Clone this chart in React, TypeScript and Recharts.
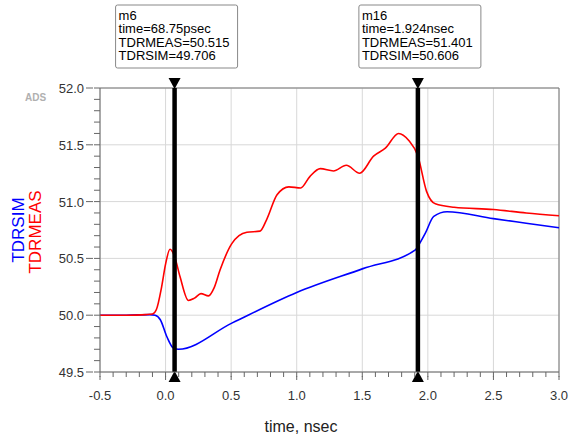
import React from "react";
import {
  LineChart,
  Line,
  XAxis,
  YAxis,
  CartesianGrid,
  ReferenceLine,
} from "recharts";

// TDR measured vs simulated, time in nsec
const measTime = [
  -0.5, -0.3, -0.15, -0.1, -0.07, -0.03, 0.0, 0.034, 0.069, 0.11, 0.174, 0.22,
  0.27, 0.327, 0.37, 0.416, 0.505, 0.56, 0.62, 0.72, 0.77, 0.85, 0.94, 1.03,
  1.1, 1.18, 1.28, 1.378, 1.48, 1.586, 1.676, 1.777, 1.853, 1.924, 1.99, 2.057,
  2.2, 2.5, 2.75, 3.0,
];
const measValues = [
  50.0, 50.0, 50.005, 50.01, 50.05, 50.25, 50.45, 50.58, 50.515, 50.34, 50.13,
  50.15, 50.19, 50.17, 50.24, 50.4, 50.63, 50.7, 50.73, 50.74, 50.84, 51.06,
  51.13, 51.12, 51.22, 51.29, 51.27, 51.32, 51.25, 51.4, 51.47, 51.6, 51.54,
  51.401, 51.09, 50.98, 50.95, 50.93, 50.9, 50.876,
];

const simTime = [
  -0.5, -0.3, -0.12, -0.08, -0.04, 0.01, 0.06, 0.098, 0.505, 1.0, 1.505, 1.905,
  1.924, 1.98, 2.045, 2.146, 2.5, 2.75, 3.0,
];
const simValues = [
  50.0, 50.0, 50.005, 50.0, 49.96, 49.81, 49.71, 49.7, 49.93, 50.2, 50.41,
  50.575, 50.606, 50.72, 50.87, 50.91, 50.85, 50.81, 50.77,
];

const xMajorTicks = [-0.5, 0, 0.5, 1, 1.5, 2, 2.5, 3];
const yMajorTicks = [49.5, 50, 50.5, 51, 51.5, 52];
const xMinorTicks = Array.from({ length: 36 }, (_, i) => -0.5 + i * 0.1);
const yMinorTicks = Array.from({ length: 26 }, (_, i) => 49.5 + i * 0.1);

const markerNames = ["m6", "m16"];
const markerTimes = [0.06875, 1.924];
const markerTimeLabels = ["68.75psec", "1.924nsec"];
const markerMeas = ["50.515", "51.401"];
const markerSim = ["49.706", "50.606"];

const measData = measTime.map((t, i) => ({ t, v: measValues[i] }));
const simData = simTime.map((t, i) => ({ t, v: simValues[i] }));

const FONT = "'Liberation Sans', Arial, sans-serif";

const isMajor = (v: number) => Math.abs(v * 2 - Math.round(v * 2)) < 1e-6;

// tick line (5px) is drawn by recharts, majors get a small extension here
const XTick = (props: any) => {
  const { x, y, payload } = props;
  const v = payload.value;
  if (!isMajor(v)) return <g />;
  return (
    <g>
      <line x1={x} x2={x} y1={y - 1} y2={y + 3} stroke="#666" />
      <text
        x={x}
        y={y + 23}
        textAnchor="middle"
        fontSize={13}
        fontFamily={FONT}
        fill="#333"
      >
        {v.toFixed(1)}
      </text>
    </g>
  );
};

const YTick = (props: any) => {
  const { x, y, payload } = props;
  const v = payload.value;
  if (!isMajor(v)) return <g />;
  return (
    <g>
      <line x1={x - 6} x2={x + 1} y1={y} y2={y} stroke="#666" />
      <text
        x={x - 8}
        y={y + 5}
        textAnchor="end"
        fontSize={13}
        fontFamily={FONT}
        fill="#333"
      >
        {v.toFixed(1)}
      </text>
    </g>
  );
};

const MarkerLabel = (props: any) => {
  const { viewBox, idx } = props;
  const { x, y, height } = viewBox;
  const bx = x - 59;
  const lines = [
    markerNames[idx],
    `time=${markerTimeLabels[idx]}`,
    `TDRMEAS=${markerMeas[idx]}`,
    `TDRSIM=${markerSim[idx]}`,
  ];
  return (
    <g>
      <rect
        x={bx}
        y={5}
        width={122}
        height={63}
        rx={2}
        fill="#fff"
        stroke="#888"
      />
      {lines.map((s, i) => (
        <text
          key={i}
          x={bx + 3}
          y={19.5 + i * 13.5}
          fontSize={13}
          fontFamily={FONT}
          fill="#000"
        >
          {s}
        </text>
      ))}
      <path
        d={`M${x - 6},${y - 10} L${x + 6},${y - 10} L${x},${y + 1} Z`}
        fill="#000"
      />
      <path
        d={`M${x - 6},${y + height + 10} L${x + 6},${y + height + 10} L${x},${y + height - 1} Z`}
        fill="#000"
      />
    </g>
  );
};

export default function App() {
  return (
    <div
      style={{
        position: "absolute",
        left: 0,
        top: 0,
        width: 570,
        height: 437,
        fontFamily: FONT,
      }}
    >
      <LineChart
        width={570}
        height={437}
        margin={{ top: 88, right: 11, bottom: 0, left: 0 }}
      >
        <CartesianGrid
          stroke="#d8d8d8"
          horizontalValues={yMajorTicks}
          verticalValues={xMajorTicks}
        />
        <XAxis
          type="number"
          dataKey="t"
          domain={[-0.5, 3]}
          ticks={xMinorTicks}
          interval={0}
          height={65}
          tickSize={5}
          tickMargin={0}
          tickLine={{ stroke: "#666" }}
          tick={<XTick />}
          axisLine={{ stroke: "#666" }}
        />
        <YAxis
          type="number"
          domain={[49.5, 52]}
          ticks={yMinorTicks}
          interval={0}
          width={100}
          tickSize={6}
          tickLine={{ stroke: "#666" }}
          tick={<YTick />}
          axisLine={{ stroke: "#666" }}
        />
        <ReferenceLine y={52} stroke="#777" />
        <ReferenceLine x={3} stroke="#777" />
        <Line
          data={simData}
          dataKey="v"
          type="monotone"
          stroke="#0000ff"
          strokeWidth={1.6}
          dot={false}
          isAnimationActive={false}
        />
        <Line
          data={measData}
          dataKey="v"
          type="monotone"
          stroke="#ff0000"
          strokeWidth={1.6}
          dot={false}
          isAnimationActive={false}
        />
        {markerTimes.map((t, i) => (
          <ReferenceLine
            key={i}
            x={t}
            stroke="#000"
            strokeWidth={4.5}
            label={(p: any) => <MarkerLabel {...p} idx={i} />}
          />
        ))}
      </LineChart>
      <div
        style={{
          position: "absolute",
          left: 25,
          top: 93,
          fontSize: 10,
          fontWeight: "bold",
          color: "#b0b0b0",
          lineHeight: "10px",
        }}
      >
        ADS
      </div>
      <div
        style={{
          position: "absolute",
          left: 17.5,
          top: 229.5,
          transform: "translate(-50%, -50%) rotate(-90deg)",
          fontSize: 17,
          color: "#0000ff",
          whiteSpace: "nowrap",
          lineHeight: "17px",
        }}
      >
        TDRSIM
      </div>
      <div
        style={{
          position: "absolute",
          left: 35,
          top: 231.5,
          transform: "translate(-50%, -50%) rotate(-90deg)",
          fontSize: 17,
          color: "#ff0000",
          whiteSpace: "nowrap",
          lineHeight: "17px",
        }}
      >
        TDRMEAS
      </div>
      <div
        style={{
          position: "absolute",
          left: 301,
          top: 427,
          transform: "translate(-50%, -50%)",
          fontSize: 16,
          color: "#222",
          whiteSpace: "nowrap",
          lineHeight: "16px",
        }}
      >
        time, nsec
      </div>
    </div>
  );
}
